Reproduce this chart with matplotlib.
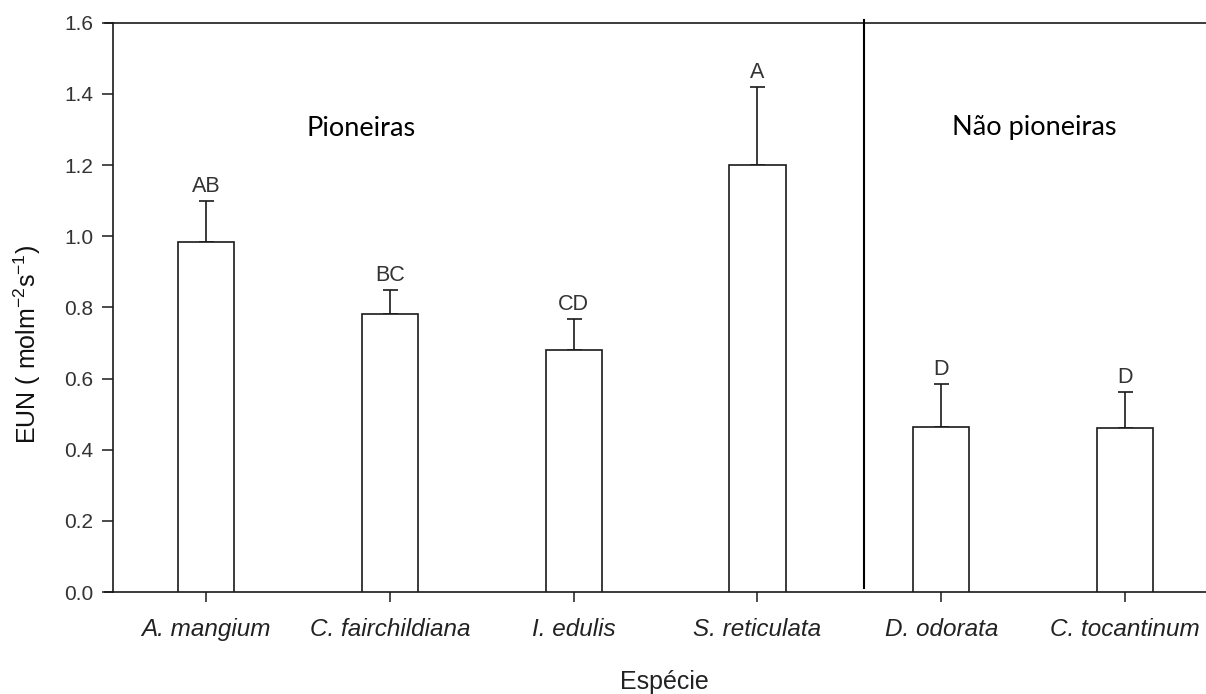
import matplotlib
matplotlib.use("Agg")
import matplotlib.pyplot as plt
import numpy as np

species = ["A. mangium", "C. fairchildiana", "I. edulis", "S. reticulata",
           "D. odorata", "C. tocantinum"]
eun = [0.984, 0.782, 0.679, 1.200, 0.463, 0.460]
err = [0.115, 0.066, 0.087, 0.218, 0.121, 0.102]
groups = ["AB", "BC", "CD", "A", "D", "D"]
yticks = [0.0, 0.2, 0.4, 0.6, 0.8, 1.0, 1.2, 1.4, 1.6]

plt.rcParams["font.family"] = ["Liberation Sans", "DejaVu Sans"]
plt.rcParams["mathtext.default"] = "regular"

ink = "#1a1a1a"
fig = plt.figure(figsize=(12.06, 6.94), dpi=100)
ax = fig.add_axes([113 / 1206, 1 - 592 / 694, 1 - 113 / 1206, (592 - 22.7) / 694])

x = np.arange(len(species))
ax.bar(x, eun, width=0.305, color="white", edgecolor=ink, linewidth=1.2, zorder=3)
ax.errorbar(x, eun, yerr=[np.zeros(len(err)), err], fmt="none", ecolor=ink,
            elinewidth=1.2, capsize=5.4, capthick=1.2, zorder=2)

for xi, v, e, g in zip(x, eun, err, groups):
    ax.annotate(g, (xi, v + e), xytext=(0, 6.5), textcoords="offset points",
                ha="center", va="baseline", fontsize=15.5, color="#333333")

ax.set_xlim(-0.506, 5.44)
ax.set_ylim(0, 1.6)
ax.set_yticks(yticks)
ax.set_yticklabels([f"{t:.1f}" for t in yticks])
ax.set_xticks(x)
ax.set_xticklabels(species, fontstyle="italic", fontsize=17.5, color="#222222")
ax.tick_params(axis="y", direction="out", length=8, width=1.1, labelsize=15,
               colors=ink, labelcolor="#333333", pad=6)
ax.tick_params(axis="x", direction="out", length=7, width=1.1, colors=ink,
               labelcolor="#222222", pad=12)

for side in ("left", "top", "bottom"):
    ax.spines[side].set_color(ink)
    ax.spines[side].set_linewidth(1.2)
ax.spines["right"].set_visible(False)
ax.spines["left"].set_bounds(0, 1.6)

# spines extend past the left axis line by the tick length
for yy in (0.0, 1.6):
    ax.plot([-0.506 - 8 / 183.8, -0.506], [yy, yy], color=ink, lw=1.2,
            clip_on=False, zorder=4)

ax.set_ylabel("EUN ( molm$^{-2}$s$^{-1}$)", fontsize=18, color="#111111")
ax.yaxis.set_label_coords(-0.064, 0.435)
ax.set_xlabel("Espécie", fontsize=18, color="#222222")
ax.xaxis.set_label_coords(0.5 + 5 / 1093, -0.137)

# separator between successional groups
ax.axvline(3.58, ymin=0.007, ymax=1.004, color="black", lw=1.5, clip_on=False, zorder=4)

ax.text(361, 694 - 128, "Pioneiras", transform=None, fontsize=19.5,
        family=["Lato", "DejaVu Sans"], ha="center", va="center", color="black")
ax.text(1034, 694 - 128, "Não pioneiras", transform=None, fontsize=19.5,
        family=["Lato", "DejaVu Sans"], ha="center", va="center", color="black")

fig.savefig("out.png", dpi=100, facecolor="white")
